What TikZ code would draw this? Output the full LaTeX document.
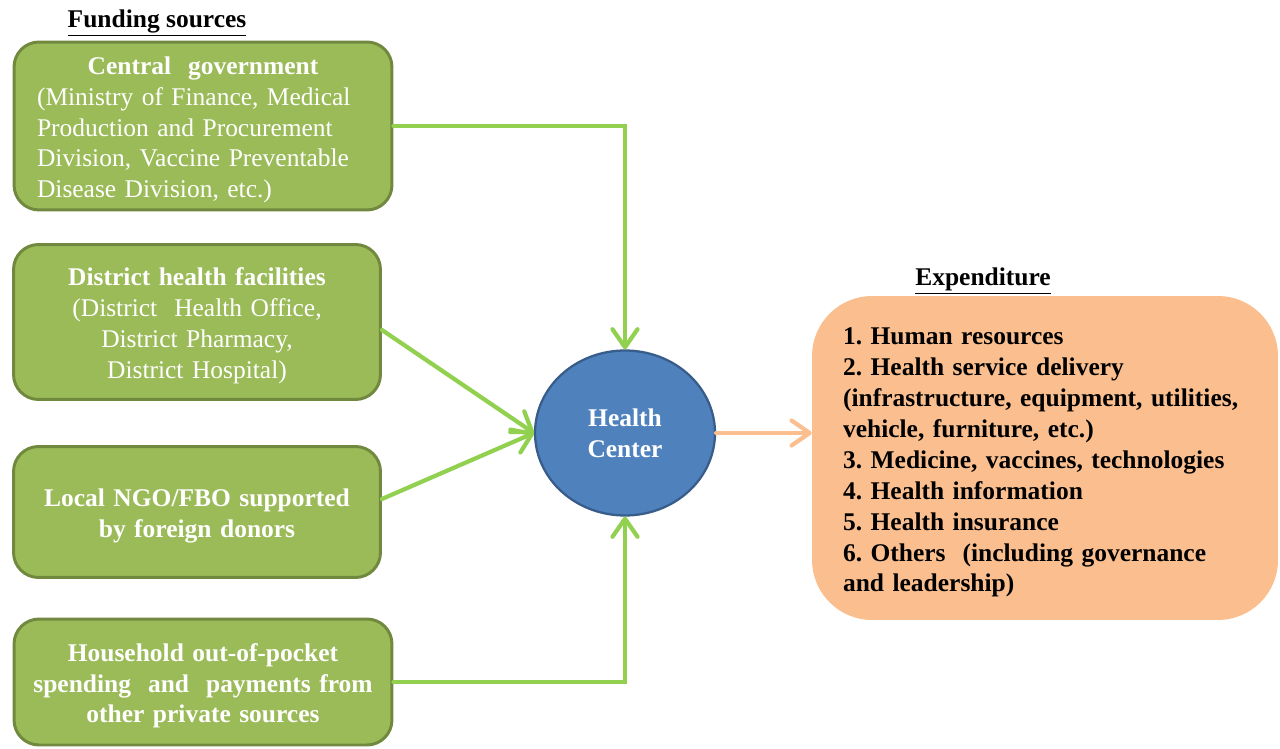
\documentclass[tikz,border=0pt]{standalone}
\usepackage{fontspec}
\setmainfont{Liberation Serif}
\usetikzlibrary{shapes.geometric, arrows.meta}

\definecolor{fundfill}{HTML}{9BBB59}
\definecolor{funddraw}{HTML}{71893F}
\definecolor{linkgreen}{HTML}{92D050}
\definecolor{hcfill}{HTML}{4F81BD}
\definecolor{hcdraw}{HTML}{385D8A}
\definecolor{expfill}{HTML}{FBBF8F}

\begin{document}
\frenchspacing
\begin{tikzpicture}[x=0.02cm, y=-0.02cm,
 font=\fontsize{14.5}{17.6}\selectfont,
 fund node/.style={draw=funddraw, fill=fundfill, line width=1.7pt, rounded corners=0.5cm,
   text=white, inner sep=0pt, align=center, execute at begin node={\rule{0pt}{0.51cm}}},
 head/.style={font=\fontsize{14.5}{17.6}\selectfont\bfseries},
 link/.style={draw=linkgreen, line width=2.4pt, line cap=round,
   -{Straight Barb[length=0.36cm, width=0.5cm, round]}}]

  \useasboundingbox (0,0) rectangle (1280,749);

  % funding sources
  \node[head] (fs) at (157,23) {\underline{Funding sources}};
  \node[fund node, minimum width=7.56cm, minimum height=3.36cm, text width=6.64cm, align=left] (1) at (203,126)
    {\makebox[\linewidth][c]{\bfseries Central\ \ government}\\(Ministry of Finance, Medical\\Production and Procurement\\Division, Vaccine Preventable\\Disease Division, etc.)};
  \node[fund node, minimum width=7.34cm, minimum height=3.1cm, text width=6.8cm] (2) at (197,322)
    {\textbf{District health facilities}\\(District\ \ Health Office,\\District Pharmacy,\\District Hospital)};
  \node[fund node, minimum width=7.34cm, minimum height=2.62cm, text width=6.8cm,
    font=\fontsize{14.5}{17.6}\selectfont\bfseries] (3) at (197,512)
    {Local NGO/FBO supported\\by foreign donors};
  \node[fund node, minimum width=7.56cm, minimum height=2.52cm, text width=7cm,
    font=\fontsize{14.5}{17.6}\selectfont\bfseries] (4) at (203,682)
    {Household out-of-pocket\\spending\ \ and\ \ payments from\\other private sources};

  % health center
  \node[ellipse, draw=hcdraw, fill=hcfill, line width=1.3pt, minimum width=3.6cm, minimum height=3.3cm,
    text=white, align=center, font=\fontsize{14.5}{17.6}\selectfont\bfseries] (hc) at (625,433) {Health\\Center};

  % expenditure
  \node[head] (eh) at (983,281) {\underline{Expenditure}};
  \node[fill=expfill, rounded corners=1.2cm, minimum width=9.32cm, minimum height=6.48cm,
    inner xsep=0.62cm, text width=8.08cm, align=left, execute at begin node={\rule{0pt}{0.52cm}},
    font=\fontsize{14.5}{17.6}\selectfont\bfseries] (exp) at (1045,458)
    {1. Human resources\\2. Health service delivery\\(infrastructure, equipment, utilities,\\vehicle, furniture, etc.)\\3. Medicine, vaccines, technologies\\4. Health information\\5. Health insurance\\6. Others\ \ (including governance\\and leadership)};

  % links
  \draw[link] (1.east) -| (hc.north);
  \draw[link] (4.east) -| (hc.south);
  \foreach \s/\d in {2/8, 3/-13} {
    \draw[link] ([yshift=\d*-0.02cm]\s.east) -- (hc.west);}
  \draw[link, draw=expfill] (hc.east) -- (hc.east -| exp.west);
\end{tikzpicture}
\end{document}
